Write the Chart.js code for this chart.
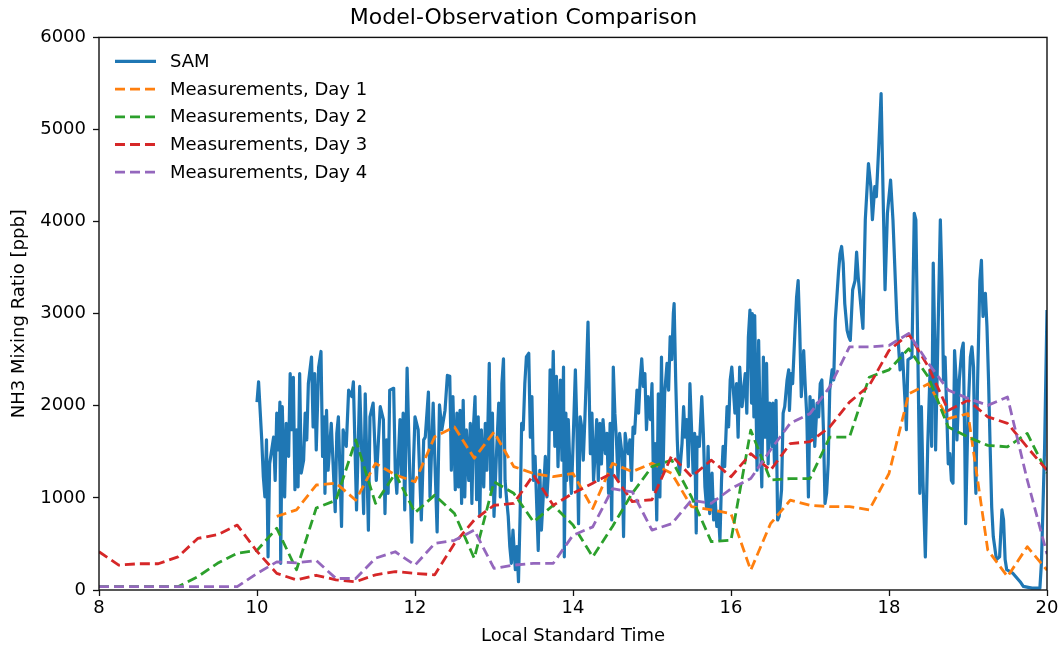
<!DOCTYPE html>
<html>
<head>
<meta charset="utf-8">
<title>Model-Observation Comparison</title>
<script src="https://cdn.jsdelivr.net/npm/chart.js@4.4.1/dist/chart.umd.min.js"></script>
<style>
  html, body { margin: 0; padding: 0; background: #fff; }
  canvas { display: block; }
</style>
</head>
<body>
<canvas id="chart" width="1062" height="647"></canvas>
<script>
// measurement times (hours, local standard time)
const measTimes = [8, 8.25, 8.5, 8.75, 9, 9.25, 9.5, 9.75, 10, 10.25, 10.5, 10.75, 11, 11.25, 11.5, 11.75,
  12, 12.25, 12.5, 12.75, 13, 13.25, 13.5, 13.75, 14, 14.25, 14.5, 14.75, 15, 15.25, 15.5, 15.75,
  16, 16.25, 16.5, 16.75, 17, 17.25, 17.5, 17.75, 18, 18.25, 18.5, 18.75, 19, 19.25, 19.5, 19.75, 20]

const day1 = [null, null, null, null, null, null, null, null, null, 800, 870, 1140, 1160, 975, 1375, 1250,
  1175, 1665, 1770, 1430, 1715, 1340, 1265, 1230, 1265, 885, 1375, 1285, 1375, 1265, 905, 870,
  830, 215, 720, 975, 920, 905, 905, 870, 1265, 2130, 2240, 1860, 1915, 435, 145, 470, 215]

const day2 = [36, 36, 36, 36, 36, 145, 290, 400, 430, 670, 220, 890, 975, 1630, 940, 1265,
  840, 1030, 830, 345, 1175, 1050, 740, 920, 705, 360, 690, 1050, 1340, 1410, 1010, 525,
  540, 1735, 1195, 1210, 1210, 1660, 1660, 2310, 2390, 2620, 2310, 1770, 1660, 1570, 1555, 1700, 1270]

const day3 = [415, 270, 285, 285, 360, 560, 600, 705, 420, 180, 110, 160, 110, 90, 165, 200,
  180, 165, 506, 760, 920, 940, 1250, 920, 1050, 1160, 1270, 960, 980, 1460, 1230, 1410,
  1230, 1480, 1300, 1590, 1610, 1770, 2040, 2220, 2600, 2780, 2420, 1950, 2060, 1880, 1810, 1550, 1300]

const day4 = [36, 36, 36, 36, 36, 36, 36, 36, 180, 305, 295, 320, 125, 125, 345, 415,
  270, 505, 540, 650, 235, 270, 290, 290, 595, 685, 1100, 1065, 650, 720, 975, 940,
  1100, 1210, 1520, 1810, 1915, 2205, 2640, 2640, 2655, 2785, 2460, 2170, 2080, 2005, 2095, 1195, 390]

// SAM model output
const samTimes = [10.00, 10.02, 10.06, 10.08, 10.10, 10.12, 10.14, 10.16, 10.21, 10.23, 10.25, 10.27, 10.29, 10.30,
  10.32, 10.35, 10.37, 10.40, 10.42, 10.44, 10.46, 10.48, 10.50, 10.52, 10.54, 10.56, 10.59, 10.61, 10.63, 10.65,
  10.69, 10.71, 10.73, 10.75, 10.78, 10.81, 10.83, 10.85, 10.86, 10.88, 10.90, 10.94, 10.99, 11.01, 11.03, 11.07,
  11.09, 11.13, 11.16, 11.20, 11.22, 11.26, 11.30, 11.35, 11.37, 11.41, 11.43, 11.47, 11.51, 11.56, 11.60, 11.62,
  11.64, 11.66, 11.68, 11.73, 11.75, 11.77, 11.81, 11.83, 11.85, 11.87, 11.90, 11.93, 11.96, 11.98, 12.00, 12.04,
  12.06, 12.08, 12.11, 12.13, 12.17, 12.19, 12.23, 12.25, 12.28, 12.31, 12.34, 12.38, 12.41, 12.44, 12.46, 12.48,
  12.51, 12.53, 12.55, 12.57, 12.59, 12.61, 12.63, 12.65, 12.68, 12.70, 12.72, 12.74, 12.76, 12.78, 12.80, 12.82,
  12.84, 12.87, 12.89, 12.91, 12.94, 12.96, 12.98, 13.00, 13.03, 13.06, 13.08, 13.10, 13.12, 13.14, 13.16, 13.18,
  13.20, 13.22, 13.24, 13.27, 13.29, 13.31, 13.33, 13.35, 13.37, 13.39, 13.41, 13.44, 13.46, 13.48, 13.50, 13.52,
  13.54, 13.56, 13.58, 13.60, 13.63, 13.65, 13.67, 13.69, 13.71, 13.73, 13.75, 13.77, 13.79, 13.81, 13.84, 13.86,
  13.88, 13.89, 13.91, 13.92, 13.94, 13.96, 13.98, 14.00, 14.03, 14.05, 14.07, 14.09, 14.11, 14.13, 14.15, 14.17,
  14.19, 14.21, 14.22, 14.24, 14.26, 14.28, 14.30, 14.32, 14.34, 14.36, 14.38, 14.41, 14.43, 14.45, 14.47, 14.49,
  14.51, 14.53, 14.55, 14.57, 14.59, 14.62, 14.64, 14.66, 14.68, 14.70, 14.72, 14.74, 14.76, 14.78, 14.81, 14.83,
  14.85, 14.87, 14.89, 14.91, 14.93, 14.95, 14.98, 15.00, 15.02, 15.04, 15.06, 15.08, 15.10, 15.12, 15.14, 15.16,
  15.19, 15.21, 15.23, 15.25, 15.27, 15.28, 15.30, 15.32, 15.33, 15.35, 15.38, 15.40, 15.42, 15.44, 15.46, 15.48,
  15.50, 15.52, 15.54, 15.56, 15.57, 15.60, 15.63, 15.65, 15.67, 15.69, 15.71, 15.73, 15.76, 15.78, 15.80, 15.82,
  15.84, 15.86, 15.88, 15.90, 15.92, 15.95, 15.97, 15.99, 16.01, 16.03, 16.05, 16.07, 16.09, 16.11, 16.14, 16.16,
  16.18, 16.20, 16.22, 16.24, 16.26, 16.27, 16.29, 16.30, 16.33, 16.35, 16.37, 16.39, 16.41, 16.43, 16.45, 16.47,
  16.49, 16.52, 16.53, 16.55, 16.57, 16.59, 16.61, 16.64, 16.66, 16.68, 16.71, 16.73, 16.74, 16.76, 16.78, 16.81,
  16.83, 16.85, 16.87, 16.89, 16.92, 16.94, 16.96, 16.98, 17.00, 17.02, 17.04, 17.06, 17.09, 17.11, 17.13, 17.15,
  17.17, 17.19, 17.21, 17.23, 17.25, 17.28, 17.30, 17.32, 17.34, 17.36, 17.38, 17.40, 17.42, 17.44, 17.47, 17.49,
  17.51, 17.54, 17.57, 17.59, 17.61, 17.67, 17.70, 17.74, 17.77, 17.79, 17.82, 17.84, 17.87, 17.90, 17.93, 17.95,
  17.98, 18.02, 18.05, 18.10, 18.14, 18.17, 18.20, 18.22, 18.24, 18.29, 18.32, 18.34, 18.37, 18.39, 18.41, 18.43,
  18.46, 18.49, 18.52, 18.54, 18.56, 18.58, 18.59, 18.61, 18.65, 18.67, 18.69, 18.71, 18.75, 18.77, 18.79, 18.81,
  18.83, 18.85, 18.86, 18.89, 18.92, 18.94, 18.96, 18.97, 19.00, 19.03, 19.05, 19.07, 19.09, 19.10, 19.12, 19.15,
  19.17, 19.19, 19.22, 19.24, 19.26, 19.28, 19.30, 19.32, 19.36, 19.40, 19.43, 19.45, 19.47, 19.49, 19.57, 19.66,
  19.70, 19.81, 19.91, 19.93, 19.97, 20.00]

const samValues = [2040, 2260, 1630, 1230, 1010, 1630, 360, 1370, 1660, 1190, 1920, 1520, 2040, 290,
  1990, 1010, 1810, 1450, 2350, 1740, 2310, 1090, 1740, 1120, 2350, 1270, 1410, 1920, 1630, 2240,
  2530, 1770, 2350, 1520, 2420, 2590, 1450, 1880, 1050, 1950, 1300, 1810, 850, 1700, 1880, 690,
  1740, 1560, 2170, 2100, 2260, 870, 2210, 830, 2130, 650, 1880, 2030, 1190, 1990, 1850, 830,
  1630, 1050, 2170, 2190, 1300, 1050, 1850, 1230, 1920, 870, 2410, 1370, 520, 1370, 1880, 1740,
  1230, 760, 1630, 1660, 2150, 1010, 2030, 1450, 630, 2010, 1740, 1950, 2330, 2320, 1300, 2100,
  1090, 1920, 1120, 1950, 940, 2060, 1010, 1740, 1190, 1810, 940, 1770, 2100, 980, 1880, 800,
  1740, 1120, 1810, 1300, 2460, 1090, 1920, 800, 1450, 2030, 1010, 2240, 2510, 1190, 980, 800,
  470, 290, 650, 220, 470, 90, 800, 1810, 1740, 2240, 2530, 2570, 1660, 2100, 1190, 1450,
  940, 430, 1300, 650, 1120, 1450, 1010, 1300, 2390, 1740, 2590, 1560, 2320, 1340, 2280, 1410,
  2420, 360, 1920, 1190, 1850, 1340, 1050, 1560, 2390, 1740, 720, 1880, 1770, 1410, 1850, 2350,
  2910, 1920, 1480, 1920, 1190, 1480, 1850, 1190, 1810, 1370, 1850, 1480, 1700, 1050, 1810, 760,
  2420, 1920, 1630, 1190, 1700, 1480, 580, 1700, 1560, 1480, 1630, 1190, 1770, 1700, 2170, 1920,
  2280, 2510, 2210, 2350, 1740, 2100, 1850, 2240, 1090, 1590, 760, 2130, 1010, 2530, 1270, 2130,
  2460, 2170, 2750, 2500, 3000, 3110, 2280, 1630, 1410, 1270, 1590, 1990, 1660, 1850, 1340, 2240,
  1770, 1270, 1700, 620, 1660, 1560, 2100, 1700, 1120, 900, 1560, 830, 1270, 760, 980, 690,
  830, 540, 1190, 1560, 1340, 1990, 1770, 2280, 2420, 2170, 1920, 2240, 1660, 2420, 1990, 2170,
  2350, 1920, 2750, 3040, 2030, 3000, 1880, 2980, 1300, 2710, 1740, 1120, 2530, 1660, 2460, 1370,
  2030, 1560, 2030, 1370, 2060, 760, 800, 1090, 1920, 1990, 2280, 2390, 1950, 2350, 2240, 2820,
  3180, 3360, 2820, 2100, 2600, 2210, 1880, 1010, 2100, 1660, 2060, 1560, 2030, 1880, 2240, 2280,
  1740, 940, 1050, 1370, 2170, 2390, 2280, 2930, 3180, 3440, 3650, 3730, 3550, 3110, 2820, 2750,
  2710, 3260, 3360, 3670, 3400, 2840, 4020, 4630, 4380, 4020, 4380, 4270, 4810, 5390, 4090, 3260,
  4090, 4450, 4020, 2930, 2390, 2570, 2100, 1740, 2500, 2530, 4090, 4020, 2280, 1050, 1990, 1190,
  360, 1560, 2390, 1560, 3550, 2640, 1520, 2350, 4020, 3360, 2280, 2530, 1370, 1480, 1190, 1160,
  2600, 2280, 1630, 2280, 2600, 2680, 1520, 720, 1920, 2530, 2640, 2420, 1270, 1050, 2210, 3360,
  3580, 2970, 3220, 2860, 2280, 1560, 900, 580, 330, 360, 870, 760, 330, 220, 180, 90,
  40, 20, 20, 300, 1560, 3040]

const yTicks = [0, 1000, 2000, 3000, 4000, 5000, 6000]
const xTicks = [8, 10, 12, 14, 16, 18, 20]

const toPoints = (xs, ys) => xs.map((x, i) => ({x: x, y: ys[i]}))

const font = "'DejaVu Sans', 'Liberation Sans', sans-serif"
Chart.defaults.font.family = font
Chart.defaults.color = '#000'

// matplotlib-style frame round the axes
const framePlugin = {
  id: 'frame',
  afterDatasetsDraw(chart) {
    const {ctx, chartArea: a} = chart
    ctx.save()
    ctx.strokeStyle = '#111'
    ctx.lineWidth = 1.4
    ctx.strokeRect(a.left, a.top, a.right - a.left, a.bottom - a.top)
    ctx.restore()
  }
}

// legend in the upper left corner of the axes
const legendPlugin = {
  id: 'innerLegend',
  afterDraw(chart) {
    const {ctx, chartArea: a} = chart
    ctx.save()
    ctx.font = '18px ' + font
    ctx.textBaseline = 'middle'
    ctx.textAlign = 'left'
    chart.data.datasets.forEach((ds, i) => {
      const y = a.top + 24 + i * 27.7
      ctx.strokeStyle = ds.borderColor
      ctx.lineWidth = ds.borderWidth
      ctx.setLineDash(ds.borderDash || [])
      ctx.beginPath()
      ctx.moveTo(a.left + 16, y)
      ctx.lineTo(a.left + 57, y)
      ctx.stroke()
      ctx.setLineDash([])
      ctx.fillStyle = '#000'
      ctx.fillText(ds.label, a.left + 71, y + 1)
    })
    ctx.restore()
  }
}

const dash = [10, 5]

new Chart(document.getElementById('chart'), {
  type: 'line',
  data: {
    datasets: [
      {label: 'SAM', data: toPoints(samTimes, samValues), borderColor: '#1f77b4', borderWidth: 3.2, order: 4},
      {label: 'Measurements, Day 1', data: toPoints(measTimes, day1), borderColor: '#ff7f0e', borderWidth: 2.8, borderDash: dash, order: 3},
      {label: 'Measurements, Day 2', data: toPoints(measTimes, day2), borderColor: '#2ca02c', borderWidth: 2.8, borderDash: dash, order: 2},
      {label: 'Measurements, Day 3', data: toPoints(measTimes, day3), borderColor: '#d62728', borderWidth: 2.8, borderDash: dash, order: 1},
      {label: 'Measurements, Day 4', data: toPoints(measTimes, day4), borderColor: '#9467bd', borderWidth: 2.8, borderDash: dash, order: 0}
    ]
  },
  options: {
    responsive: false,
    animation: false,
    events: [],
    elements: {
      point: {radius: 0},
      line: {tension: 0, fill: false, borderJoinStyle: 'round', borderCapStyle: 'butt'}
    },
    layout: {padding: {left: 0, right: 15, top: 0, bottom: 0}},
    plugins: {
      legend: {display: false},
      tooltip: {enabled: false},
      title: {
        display: true,
        text: 'Model-Observation Comparison',
        color: '#000',
        font: {size: 22, weight: 'normal'},
        padding: {top: 5, bottom: 6}
      }
    },
    scales: {
      x: {
        type: 'linear',
        min: 8,
        max: 20,
        afterFit: (scale) => { scale.height = 57 },
        afterBuildTicks: (scale) => { scale.ticks = xTicks.map(v => ({value: v})) },
        border: {display: false},
        grid: {drawOnChartArea: false, drawTicks: true, tickLength: 6, tickWidth: 1.3, tickColor: '#111'},
        ticks: {color: '#000', font: {size: 18}, padding: 2, maxRotation: 0},
        title: {display: true, text: 'Local Standard Time', color: '#000', font: {size: 18}, padding: {top: 0, bottom: 0}}
      },
      y: {
        type: 'linear',
        min: 0,
        max: 6000,
        afterFit: (scale) => { scale.width = 99 },
        afterBuildTicks: (scale) => { scale.ticks = yTicks.map(v => ({value: v})) },
        border: {display: false},
        grid: {drawOnChartArea: false, drawTicks: true, tickLength: 6, tickWidth: 1.3, tickColor: '#111'},
        ticks: {color: '#000', font: {size: 18}, padding: 7, callback: (v) => String(v)},
        title: {display: true, text: 'NH3 Mixing Ratio [ppb]', color: '#000', font: {size: 18}, padding: {top: 9, bottom: 0}}
      }
    }
  },
  plugins: [framePlugin, legendPlugin]
})
</script>
</body>
</html>
